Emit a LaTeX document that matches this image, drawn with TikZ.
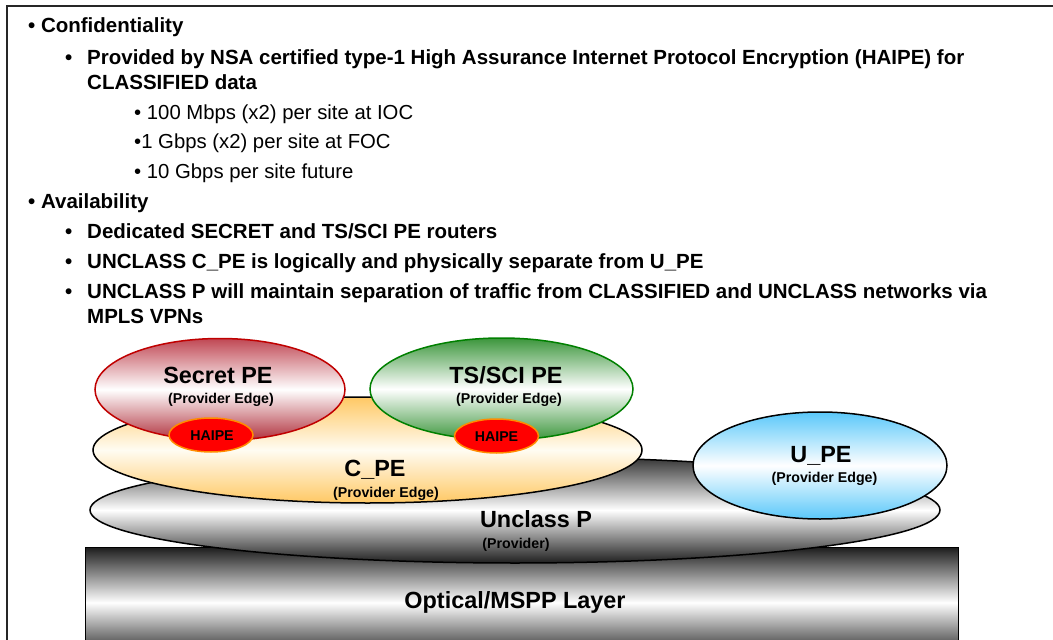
\documentclass[tikz,border=0pt]{standalone}
\usepackage{fontspec}
\setmainfont{Liberation Sans}
\usetikzlibrary{shapes.geometric}
\definecolor{secred}{RGB}{192,72,84}
\definecolor{secredb}{RGB}{176,48,60}
\definecolor{secline}{RGB}{192,0,0}
\definecolor{tsgreen}{RGB}{60,150,60}
\definecolor{tsline}{RGB}{0,128,0}
\definecolor{cpeor}{RGB}{255,200,100}
\definecolor{cpemid}{RGB}{255,252,242}
\definecolor{upeblue}{RGB}{90,200,250}
\definecolor{haipeor}{RGB}{255,140,0}
\begin{document}
\begin{tikzpicture}[x=1bp,y=-1bp,
  bul/.style={anchor=base west, inner sep=0pt, font=\fontsize{20.5bp}{24bp}\selectfont\bfseries},
  reg/.style={anchor=base west, inner sep=0pt, font=\fontsize{20.3bp}{24bp}\selectfont},
  big/.style={anchor=base, inner sep=0pt, font=\fontsize{23.4bp}{28bp}\selectfont\bfseries},
  small/.style={anchor=base, inner sep=0pt, font=\fontsize{14.2bp}{17bp}\selectfont\bfseries},
  oval/.style={ellipse, draw, line width=1.5bp, inner sep=0pt},
  haipe/.style={ellipse, draw=haipeor, fill=red, line width=1.5bp, inner sep=0pt, minimum width=84bp, minimum height=34bp},
]
\clip (0,0) rectangle (1053,640);
\fill[white] (0,0) rectangle (1053,640);
\draw[line width=1.6bp, black!85] (7,650) -- (7,6) -- (1060,6);

% text
\node[bul] (conf) at (28,33) {• Confidentiality};
\node[bul] (b1) at (65,65) {•};
\node[bul] (prov) at (87,65) {Provided by NSA certified type-1 High Assurance Internet Protocol Encryption (HAIPE) for};
\node[bul] (prov2) at (87,90) {CLASSIFIED data};
\node[reg] (s1) at (134,120) {• 100 Mbps (x2) per site at IOC};
\node[reg] (s2) at (134,149) {•1 Gbps (x2) per site at FOC};
\node[reg] (s3) at (134,179) {• 10 Gbps per site future};
\node[bul] (avail) at (28,209) {• Availability};
\node[bul] (b2) at (65,239) {•};
\node[bul] (ded) at (87,239) {Dedicated SECRET and TS/SCI PE routers};
\node[bul] (b3) at (65,269) {•};
\node[bul] (unc) at (87,269) {UNCLASS C\_PE is logically and physically separate from U\_PE};
\node[bul] (b4) at (65,299) {•};
\node[bul] (uncp) at (87,299) {UNCLASS P will maintain separation of traffic from CLASSIFIED and UNCLASS networks via};
\node[bul] (uncp2) at (87,323) {MPLS VPNs};

% optical layer
\node[draw=black, line width=1.2bp, rectangle, inner sep=0pt, anchor=north west,
  minimum width=873bp, minimum height=110bp,
  top color=black!88, bottom color=black!88, middle color=white] (opt) at (85,547) {};
\node[big] (optl) at (515,608) {Optical/MSPP Layer};

% unclass P
\node[oval, minimum width=850bp, minimum height=106bp,
  top color=black!80, bottom color=black!88, middle color=white] (unp) at (515,510) {};
\node[big] (unpl) at (536,527) {Unclass P};
\node[small] (unps) at (516,548) {(Provider)};

% C_PE
\node[oval, minimum width=549bp, minimum height=106bp,
  top color=cpeor, bottom color=cpeor, middle color=cpemid] (cpe) at (367.5,450) {};
\node[big] (cpel) at (375,476) {C\_PE};
\node[small] (cpes) at (386,497) {(Provider Edge)};

% U_PE
\node[oval, minimum width=254bp, minimum height=107bp,
  top color=upeblue, bottom color=upeblue, middle color=white] (upe) at (820,465.5) {};
\node[big] (upel) at (821,462) {U\_PE};
\node[small] (upes) at (824.5,482) {(Provider Edge)};

% Secret PE
\node[oval, draw=secline, minimum width=250bp, minimum height=102bp,
  top color=secred, bottom color=secredb, middle color=white] (spe) at (220,389.5) {};
\node[big] (spel) at (218,383) {Secret PE};
\node[small] (spes) at (221,403) {(Provider Edge)};

% TS/SCI PE
\node[oval, draw=tsline, minimum width=263bp, minimum height=102bp,
  top color=tsgreen, bottom color=tsgreen, middle color=white] (tpe) at (501.5,389) {};
\node[big] (tpel) at (506,383) {TS/SCI PE};
\node[small] (tpes) at (509,403) {(Provider Edge)};

% HAIPE
\node[haipe] (h1) at (211,435) {};
\node[small] (h1l) at (212,440) {HAIPE};
\node[haipe] (h2) at (496.5,436) {};
\node[small] (h2l) at (496.5,441) {HAIPE};
\end{tikzpicture}
\end{document}
